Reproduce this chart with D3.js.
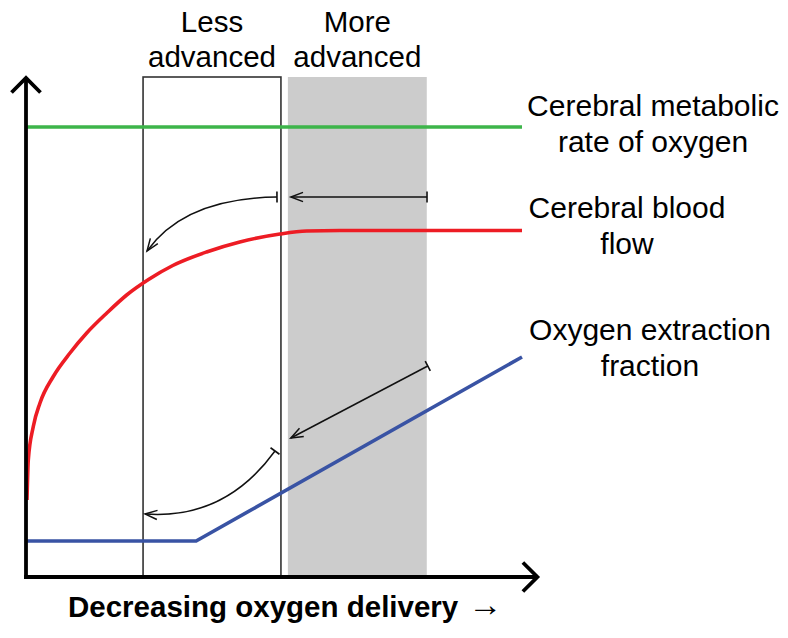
<!DOCTYPE html>
<html>
<head>
<meta charset="utf-8">
<script src="https://cdn.jsdelivr.net/npm/d3@7"></script>
<style>
  html, body { margin: 0; padding: 0; background: #fff; }
  svg { display: block; }
  text { font-family: "Liberation Sans", Arial, Helvetica, sans-serif; fill: #000; }
</style>
</head>
<body>
<svg id="chart" width="788" height="638"></svg>
<script>
// ---- Data (abstract units: x = decreasing O2 delivery 0..100, y = level 0..100) ----
const cmro2 = [[0, 90], [100, 90]];
const cbf = [
  [0.2, 15.4], [0.46, 23.4], [1.47, 30.1], [2.82, 34.8], [5.5, 40.1],
  [8.87, 44.8], [12.24, 48.8], [16.3, 52.8], [20.3, 56.4], [24.7, 59.5],
  [29.6, 62.3], [36.4, 65.0], [43.1, 67.0], [51.2, 68.6], [56.6, 69.2],
  [63.3, 69.3], [100, 69.3]
];
const oef = [[0, 7.2], [34.3, 7.2], [100, 44]];

// stage regions [x0, x1]
const stages = [
  { name: ["Less", "advanced"], x0: 23.6, x1: 51.4, shaded: false },
  { name: ["More", "advanced"], x0: 52.8, x1: 80.8, shaded: true }
];

// series labels
const seriesLabels = [
  { lines: ["Cerebral metabolic", "rate of oxygen"], cx: 653, y: 116 },
  { lines: ["Cerebral blood", "flow"], cx: 627, y: 218 },
  { lines: ["Oxygen extraction", "fraction"], cx: 650, y: 340 }
];
const xAxisLabel = "Decreasing oxygen delivery";
const xAxisArrow = "\u2192";

// annotation arrows: from (with tail bar) -> to (open head); optional control point
const arrows = [
  { from: [80.85, 76], to: [53.4, 76] },
  { from: [50.6, 76], ctrl: [32.0, 75.8], to: [24.4, 65.2] },
  { from: [81.0, 42.2], to: [53.4, 27.8] },
  { from: [50.2, 25.2], ctrl: [40.1, 11.4], to: [24.0, 12.6] }
];

// ---- Drawing ----
const svg = d3.select("#chart");
const x = d3.scaleLinear().domain([0, 100]).range([26, 522]);
const y = d3.scaleLinear().domain([0, 100]).range([577, 77]);

// stage boxes
svg.selectAll("rect.stage").data(stages).enter().append("rect")
  .attr("class", "stage")
  .attr("x", d => x(d.x0))
  .attr("y", y(100))
  .attr("width", d => x(d.x1) - x(d.x0))
  .attr("height", y(0) - y(100))
  .attr("fill", d => d.shaded ? "#cccccc" : "none")
  .attr("stroke", d => d.shaded ? "none" : "#333")
  .attr("stroke-width", 1.6);

// stage labels
stages.forEach(s => {
  const cx = (x(s.x0) + x(s.x1)) / 2;
  svg.append("text").attr("x", cx).attr("y", 32).attr("text-anchor", "middle")
    .attr("font-size", 29.5).text(s.name[0]);
  svg.append("text").attr("x", cx).attr("y", 67).attr("text-anchor", "middle")
    .attr("font-size", 29.5).text(s.name[1]);
});

svg.append("path").datum(cmro2).attr("d", d3.line().x(d => x(d[0])).y(d => y(d[1])))
  .attr("fill", "none").attr("stroke", "#3db54a").attr("stroke-width", 3.6);
svg.append("path").datum(cbf)
  .attr("d", d3.line().x(d => x(d[0])).y(d => y(d[1])).curve(d3.curveMonotoneX))
  .attr("fill", "none").attr("stroke", "#ed1c24").attr("stroke-width", 3.6);
svg.append("path").datum(oef).attr("d", d3.line().x(d => x(d[0])).y(d => y(d[1])))
  .attr("fill", "none").attr("stroke", "#3953a4").attr("stroke-width", 3.6);

// arrows
function head(tip, dir, len, half) {
  const a = Math.atan2(dir[1], dir[0]);
  const p1 = [tip[0] - len * Math.cos(a - half), tip[1] - len * Math.sin(a - half)];
  const p2 = [tip[0] - len * Math.cos(a + half), tip[1] - len * Math.sin(a + half)];
  return `M${p1[0]},${p1[1]}L${tip[0]},${tip[1]}L${p2[0]},${p2[1]}`;
}
arrows.forEach(ar => {
  const P0 = [x(ar.from[0]), y(ar.from[1])];
  const P2 = [x(ar.to[0]), y(ar.to[1])];
  const p = d3.path();
  p.moveTo(P0[0], P0[1]);
  let startDir, endDir;
  if (ar.ctrl) {
    const C = [x(ar.ctrl[0]), y(ar.ctrl[1])];
    p.quadraticCurveTo(C[0], C[1], P2[0], P2[1]);
    startDir = [C[0] - P0[0], C[1] - P0[1]];
    endDir = [P2[0] - C[0], P2[1] - C[1]];
  } else {
    p.lineTo(P2[0], P2[1]);
    startDir = endDir = [P2[0] - P0[0], P2[1] - P0[1]];
  }
  svg.append("path").attr("d", p.toString())
    .attr("fill", "none").attr("stroke", "#111").attr("stroke-width", 1.5);
  svg.append("path").attr("d", head(P2, endDir, 13, 0.36))
    .attr("fill", "none").attr("stroke", "#111").attr("stroke-width", 1.5);
  const L = Math.hypot(startDir[0], startDir[1]);
  const nx = -startDir[1] / L, ny = startDir[0] / L;
  svg.append("line")
    .attr("x1", P0[0] + nx * 5.5).attr("y1", P0[1] + ny * 5.5)
    .attr("x2", P0[0] - nx * 5.5).attr("y2", P0[1] - ny * 5.5)
    .attr("stroke", "#111").attr("stroke-width", 1.6);
});

// axes
const axisG = svg.append("g").attr("stroke", "#000").attr("stroke-width", 3.8).attr("fill", "none");
axisG.append("line").attr("x1", x(0)).attr("y1", y(0) + 1.9).attr("x2", x(0)).attr("y2", y(99.8));
axisG.append("line").attr("x1", x(0) - 1.9).attr("y1", y(0)).attr("x2", x(103.1)).attr("y2", y(0));
axisG.append("path").attr("d", head([x(0), y(99.8)], [0, -1], 20.5, Math.PI / 4))
  .attr("stroke-linejoin", "miter");
axisG.append("path").attr("d", head([x(103.1), y(0)], [1, 0], 20.5, Math.PI / 4))
  .attr("stroke-linejoin", "miter");

// series labels
seriesLabels.forEach(l => {
  l.lines.forEach((t, i) => {
    svg.append("text").attr("x", l.cx).attr("y", l.y + i * 36)
      .attr("text-anchor", "middle").attr("font-size", 30).text(t);
  });
});

// x axis label
const xl = svg.append("text").attr("x", 68).attr("y", 617).attr("text-anchor", "start")
  .attr("font-size", 29.5).attr("font-weight", "bold");
xl.append("tspan").text(xAxisLabel);
xl.append("tspan").attr("dx", 10).attr("font-weight", "normal").attr("font-size", 34)
  .attr("dy", -1).text(xAxisArrow);
</script>
</body>
</html>
